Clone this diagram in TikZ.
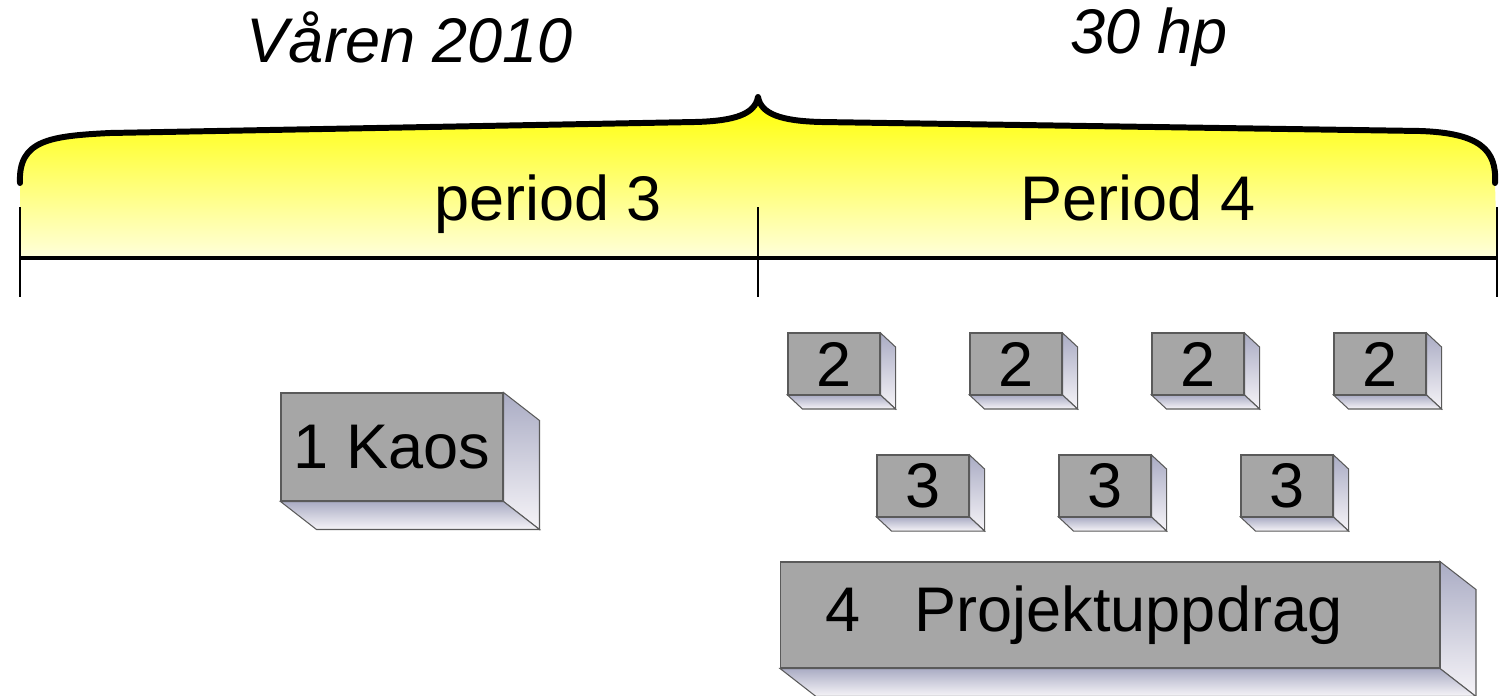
\documentclass[tikz,border=0pt]{standalone}
\usepackage{fontspec}
\setmainfont{Liberation Sans}
\usetikzlibrary{calc}

\definecolor{frontgray}{RGB}{166,166,166}
\definecolor{edgegray}{RGB}{90,90,90}
\definecolor{sidelav}{RGB}{170,172,196}
\definecolor{sidepink}{RGB}{212,194,206}
\definecolor{sidewhite}{RGB}{246,244,248}

\begin{document}
\begin{tikzpicture}[x=0.02cm, y=-0.02cm,
                    every node/.style={font=\fontsize{35.9}{40}\selectfont},
                    blockbox/.style={rectangle, draw=edgegray, fill=frontgray, inner sep=0pt, line width=0.6pt},
                    smallbox/.style={blockbox, minimum width=1.84cm, minimum height=1.22cm},
                    brace/.style={line width=3.4pt, line join=round, line cap=round},
                    tick/.style={line width=1.1pt}]

    \useasboundingbox (0,0) rectangle (1507,696);

    % Headings
    \node[anchor=base, font=\fontsize{35.9}{40}\selectfont\itshape] (year) at (410,63) {Våren 2010};
    \node[anchor=base, font=\fontsize{35.9}{40}\selectfont\itshape] (credits) at (1149,54) {30 hp};

    % Brace with yellow fill
    \shade[top color=yellow, middle color=yellow!50, bottom color=yellow!14]
        (20,258) -- (20,183) .. controls (18,140) and (50,136) .. (110,133)
        -- (695,122) .. controls (735,121) and (755,114) .. (758,97)
        .. controls (761,114) and (781,121) .. (821,122)
        -- (1420,131) .. controls (1480,133) and (1497,150) .. (1495,183)
        -- (1497,258) -- cycle;
    \draw[brace] (20,183) .. controls (18,140) and (50,136) .. (110,133)
        -- (695,122) .. controls (735,121) and (755,114) .. (758,97)
        .. controls (761,114) and (781,121) .. (821,122)
        -- (1420,131) .. controls (1480,133) and (1497,150) .. (1495,183);

    % Timeline
    \coordinate (p0) at (20,258);
    \coordinate (p1) at (758,258);
    \coordinate (p2) at (1497,258);
    \draw[line width=2pt] (p0) -- (p2);
    \foreach \p in {p0,p1,p2}
        \draw[tick] ($(\p)+(0,-51)$) -- ($(\p)+(0,39)$);

    \node[anchor=base] (per3) at (548,220) {period 3};
    \node[anchor=base] (per4) at (1138,220) {Period 4};

    % Blocks
    \node[blockbox, minimum width=4.44cm, minimum height=2.16cm] (kaos) at (392,447) {1 Kaos};
    \node[smallbox] (a) at (834,364) {2};
    \node[smallbox] (b) at (1016,364) {2};
    \node[smallbox] (c) at (1198,364) {2};
    \node[smallbox] (d) at (1380,364) {2};
    \node[smallbox] (e) at (923,486) {3};
    \node[smallbox] (f) at (1105,486) {3};
    \node[smallbox] (g) at (1287,486) {3};
    \node[blockbox, minimum height=2.12cm, text width=11.38cm, inner xsep=0.9cm, align=left] (proj) at (1110,615)
        {4\hspace{1.08cm}Projektuppdrag};

    % Block sides
    \foreach \n/\dx/\dy in {kaos/36/28, a/15/14, b/15/14, c/15/14, d/15/14,
                            e/15/14, f/15/14, g/15/14, proj/36/28} {
        \shade[top color=sidelav, middle color=sidepink, bottom color=sidewhite, draw=edgegray, line width=0.6pt]
            (\n.north east) -- ($(\n.north east)+(\dx,\dy)$) -- ($(\n.south east)+(\dx,\dy)$) -- (\n.south east) -- cycle;
        \shade[top color=sidelav, bottom color=sidewhite, draw=edgegray, line width=0.6pt]
            (\n.south west) -- (\n.south east) -- ($(\n.south east)+(\dx,\dy)$) -- ($(\n.south west)+(\dx,\dy)$) -- cycle;
        \draw[edgegray, line width=0.6pt] (\n.north west) rectangle (\n.south east);
    }
\end{tikzpicture}
\end{document}
